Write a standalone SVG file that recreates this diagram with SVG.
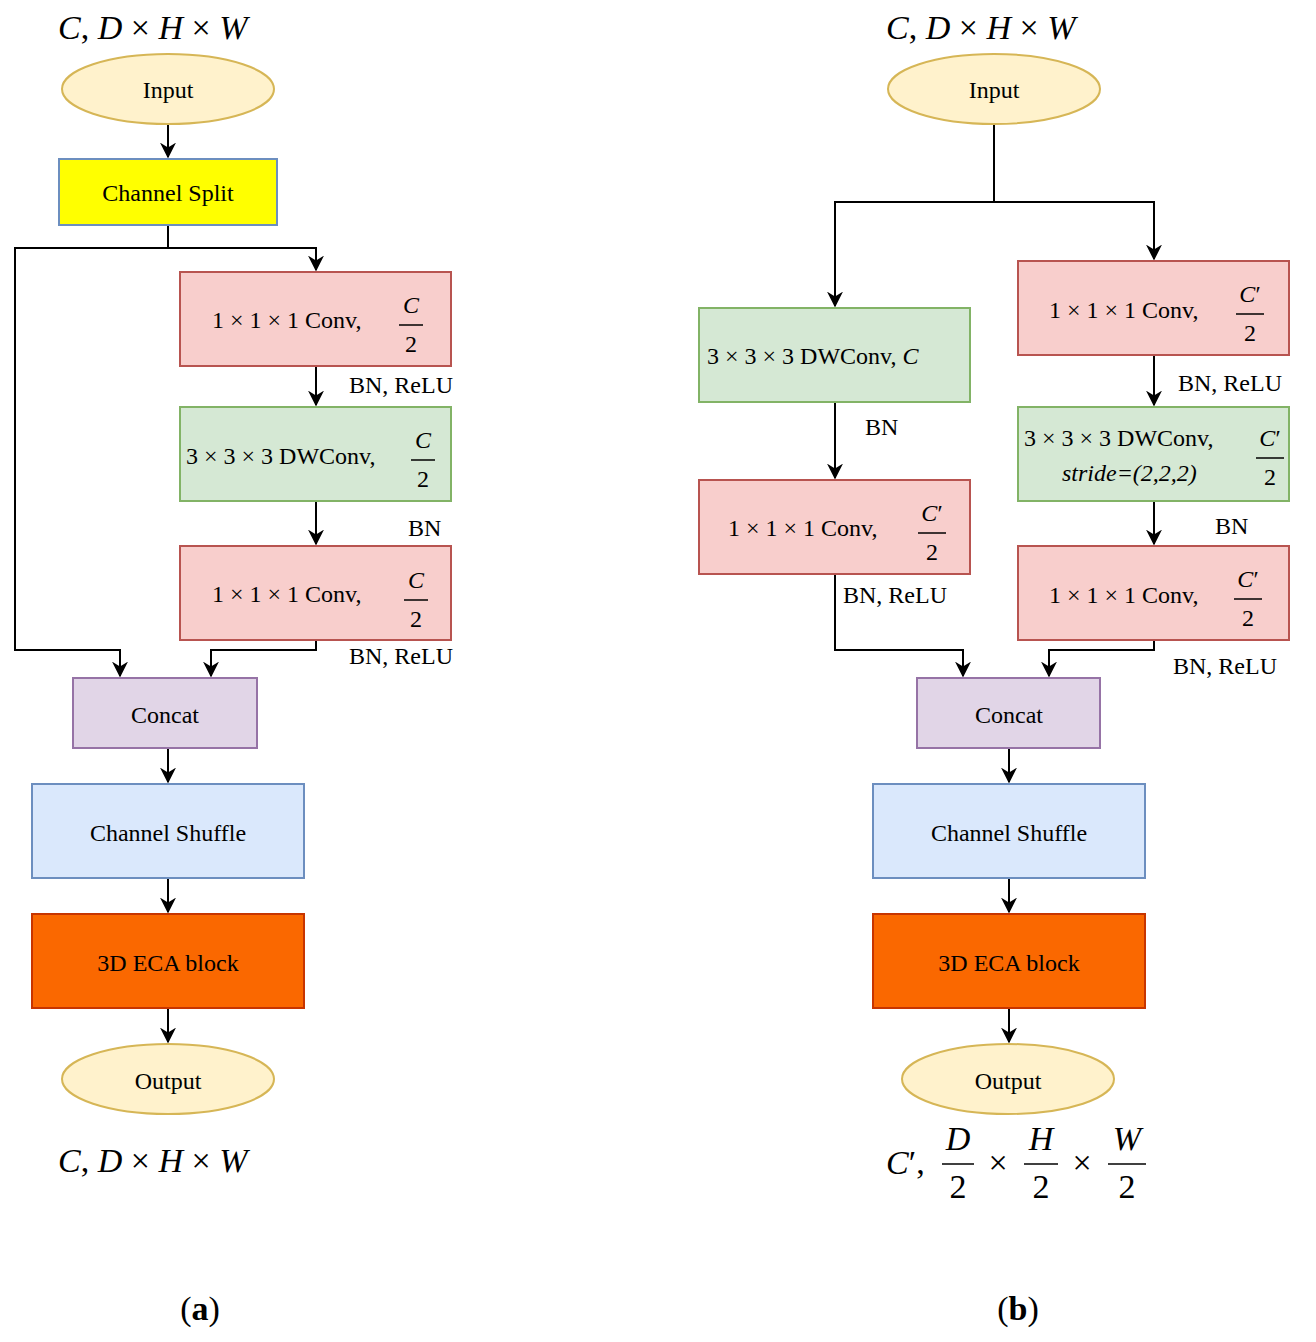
<svg xmlns="http://www.w3.org/2000/svg" width="1316" height="1342" viewBox="0 0 1316 1342">
<style>
text{font-family:"Liberation Serif","DejaVu Serif",serif;font-size:24px;fill:#000}
.m{font-style:italic}
.t{font-size:34px}
.c{text-anchor:middle}
.e{fill:#fff2cc;stroke:#d6b656;stroke-width:2}
.r{fill:#f8cecc;stroke:#b85450;stroke-width:2}
.g{fill:#d5e8d4;stroke:#82b366;stroke-width:2}
.p{fill:#e1d5e7;stroke:#9673a6;stroke-width:2}
.b{fill:#dae8fc;stroke:#6c8ebf;stroke-width:2}
.o{fill:#fa6800;stroke:#c73500;stroke-width:2}
.y{fill:#ffff00;stroke:#6c8ebf;stroke-width:2}
.ln{fill:none;stroke:#000;stroke-width:2}
.fb{stroke:#000;stroke-width:1.5}
</style>
<defs><marker id="a" viewBox="0 0 10 10" refX="9" refY="5" markerWidth="7" markerHeight="7" markerUnits="userSpaceOnUse" orient="auto"><path d="M0,0L10,5L0,10L3,5z" fill="#000"/></marker>
<marker id="ar" viewBox="0 0 10 10" refX="9" refY="5" markerWidth="16" markerHeight="16" markerUnits="userSpaceOnUse" orient="auto"><path d="M0,0L10,5L0,10L3,5z" fill="#000"/></marker></defs>

<g id="connectors" class="ln">
<path d="M168,124V157" marker-end="url(#ar)"/>
<path d="M168,225V248H15V650H120V676" marker-end="url(#ar)"/>
<path d="M168,248H316V270" marker-end="url(#ar)"/>
<path d="M316,366V405" marker-end="url(#ar)"/>
<path d="M316,501V544" marker-end="url(#ar)"/>
<path d="M316,640V650H211V676" marker-end="url(#ar)"/>
<path d="M168,748V782" marker-end="url(#ar)"/>
<path d="M168,878V912" marker-end="url(#ar)"/>
<path d="M168,1008V1042" marker-end="url(#ar)"/>
<path d="M994,124V202H835V306" marker-end="url(#ar)"/>
<path d="M994,202H1154V259" marker-end="url(#ar)"/>
<path d="M835,402V478" marker-end="url(#ar)"/>
<path d="M835,574V650H963V676" marker-end="url(#ar)"/>
<path d="M1154,355V405" marker-end="url(#ar)"/>
<path d="M1154,501V544" marker-end="url(#ar)"/>
<path d="M1154,640V650H1049V676" marker-end="url(#ar)"/>
<path d="M1009,748V782" marker-end="url(#ar)"/>
<path d="M1009,878V912" marker-end="url(#ar)"/>
<path d="M1009,1008V1042" marker-end="url(#ar)"/>
</g>

<text x="58" y="39" class="t"><tspan class="m">C</tspan>, <tspan class="m">D</tspan> × <tspan class="m">H</tspan> × <tspan class="m">W</tspan></text>
<g id="inA"><ellipse cx="168" cy="89" rx="106" ry="35" class="e"/><text x="168" y="98" class="c">Input</text></g>
<g id="split"><rect x="59" y="159" width="218" height="66" class="y"/><text x="168" y="201" class="c">Channel Split</text></g>
<g id="convA1"><rect x="180" y="272" width="271" height="94" class="r"/><text x="212" y="328">1 × 1 × 1  Conv,</text><text x="411" y="313" class="c m">C</text><line x1="399" y1="325" x2="423" y2="325" class="fb"/><text x="411" y="352" class="c">2</text></g>
<text x="349" y="393">BN, ReLU</text>
<g id="dwA"><rect x="180" y="407" width="271" height="94" class="g"/><text x="186" y="464">3 × 3 × 3 DWConv,</text><text x="423" y="448" class="c m">C</text><line x1="411" y1="460" x2="435" y2="460" class="fb"/><text x="423" y="487" class="c">2</text></g>
<text x="408" y="536">BN</text>
<g id="convA2"><rect x="180" y="546" width="271" height="94" class="r"/><text x="212" y="602">1 × 1 × 1  Conv,</text><text x="416" y="588" class="c m">C</text><line x1="404" y1="600" x2="428" y2="600" class="fb"/><text x="416" y="627" class="c">2</text></g>
<text x="349" y="664">BN, ReLU</text>
<g id="concatA"><rect x="73" y="678" width="184" height="70" class="p"/><text x="165" y="723" class="c">Concat</text></g>
<g id="shufA"><rect x="32" y="784" width="272" height="94" class="b"/><text x="168" y="841" class="c">Channel Shuffle</text></g>
<g id="ecaA"><rect x="32" y="914" width="272" height="94" class="o"/><text x="168" y="971" class="c">3D ECA block</text></g>
<g id="outA"><ellipse cx="168" cy="1079" rx="106" ry="35" class="e"/><text x="168" y="1089" class="c">Output</text></g>
<text x="58" y="1172" class="t"><tspan class="m">C</tspan>, <tspan class="m">D</tspan> × <tspan class="m">H</tspan> × <tspan class="m">W</tspan></text>
<text x="200" y="1320" class="c t">(<tspan font-weight="bold">a</tspan>)</text>

<text x="886" y="39" class="t"><tspan class="m">C</tspan>, <tspan class="m">D</tspan> × <tspan class="m">H</tspan> × <tspan class="m">W</tspan></text>
<g id="inB"><ellipse cx="994" cy="89" rx="106" ry="35" class="e"/><text x="994" y="98" class="c">Input</text></g>
<g id="dwB1"><rect x="699" y="308" width="271" height="94" class="g"/><text x="707" y="364">3 × 3 × 3 DWConv, <tspan class="m">C</tspan></text></g>
<text x="865" y="435">BN</text>
<g id="convB1"><rect x="699" y="480" width="271" height="94" class="r"/><text x="728" y="536">1 × 1 × 1  Conv,</text><text x="932" y="521" class="c"><tspan class="m">C</tspan>′</text><line x1="918" y1="533" x2="946" y2="533" class="fb"/><text x="932" y="560" class="c">2</text></g>
<text x="843" y="603">BN, ReLU</text>
<g id="convB2"><rect x="1018" y="261" width="271" height="94" class="r"/><text x="1049" y="318">1 × 1 × 1  Conv,</text><text x="1250" y="302" class="c"><tspan class="m">C</tspan>′</text><line x1="1236" y1="314" x2="1264" y2="314" class="fb"/><text x="1250" y="341" class="c">2</text></g>
<text x="1178" y="391">BN, ReLU</text>
<g id="dwB2"><rect x="1018" y="407" width="271" height="94" class="g"/><text x="1024" y="446">3 × 3 × 3 DWConv,</text><text x="1062" y="481" class="m">stride=(2,2,2)</text><text x="1270" y="446" class="c"><tspan class="m">C</tspan>′</text><line x1="1256" y1="458" x2="1284" y2="458" class="fb"/><text x="1270" y="485" class="c">2</text></g>
<text x="1215" y="534">BN</text>
<g id="convB3"><rect x="1018" y="546" width="271" height="94" class="r"/><text x="1049" y="603">1 × 1 × 1 Conv,</text><text x="1248" y="587" class="c"><tspan class="m">C</tspan>′</text><line x1="1234" y1="599" x2="1262" y2="599" class="fb"/><text x="1248" y="626" class="c">2</text></g>
<text x="1173" y="674">BN, ReLU</text>
<g id="concatB"><rect x="917" y="678" width="183" height="70" class="p"/><text x="1009" y="723" class="c">Concat</text></g>
<g id="shufB"><rect x="873" y="784" width="272" height="94" class="b"/><text x="1009" y="841" class="c">Channel Shuffle</text></g>
<g id="ecaB"><rect x="873" y="914" width="272" height="94" class="o"/><text x="1009" y="971" class="c">3D ECA block</text></g>
<g id="outB"><ellipse cx="1008" cy="1079" rx="106" ry="35" class="e"/><text x="1008" y="1089" class="c">Output</text></g>
<text x="886" y="1174" class="t"><tspan class="m">C</tspan>′,</text>
<text x="958" y="1150" class="t c m">D</text><line x1="942" y1="1164" x2="974" y2="1164" class="fb"/><text x="958" y="1198" class="t c">2</text>
<text x="998" y="1174" class="t c">×</text>
<text x="1041" y="1150" class="t c m">H</text><line x1="1024" y1="1164" x2="1058" y2="1164" class="fb"/><text x="1041" y="1198" class="t c">2</text>
<text x="1082" y="1174" class="t c">×</text>
<text x="1127" y="1150" class="t c m">W</text><line x1="1108" y1="1164" x2="1146" y2="1164" class="fb"/><text x="1127" y="1198" class="t c">2</text>
<text x="1018" y="1320" class="c t">(<tspan font-weight="bold">b</tspan>)</text>
</svg>
